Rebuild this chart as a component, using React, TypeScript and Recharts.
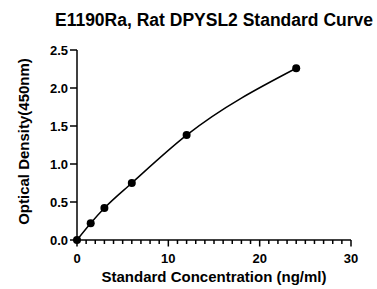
import React from 'react';
import { LineChart, Line, XAxis, YAxis, Label } from 'recharts';

const concentrations = [0, 1.5, 3, 6, 12, 24];
const densities = [0, 0.22, 0.42, 0.75, 1.38, 2.26];
const yTicks = [0, 0.5, 1, 1.5, 2, 2.5];
const xTicks = Array.from({ length: 31 }, (_, i) => i);

const data = concentrations.map((c, i) => ({ x: c, y: densities[i] }));

const FONT = "Arial, 'Liberation Sans', sans-serif";

const XTick = (props: any) => {
  const { x, y, payload } = props;
  const v = payload.value;
  const major = v % 10 === 0;
  return (
    <g>
      <line x1={x} x2={x} y1={y} y2={y + (major ? 6.5 : 4)} stroke="#000" strokeWidth={1.5} />
      {major && (
        <text x={x} y={y + 22.5} textAnchor="middle" fontFamily={FONT} fontWeight="bold" fontSize={13} fill="#000">
          {v}
        </text>
      )}
    </g>
  );
};

const YTitle = () => (
  <text
    x={29}
    y={141.5}
    transform="rotate(-90 29 141.5)"
    textAnchor="middle"
    fontFamily={FONT}
    fontWeight="bold"
    fontSize={15}
    fill="#000"
  >
    Optical Density(450nm)
  </text>
);

export default function App() {
  return (
    <div style={{ position: 'absolute', left: 0, top: 0, width: 377, height: 289, background: '#fff' }}>
      <div
        style={{
          position: 'absolute',
          left: 39,
          width: 350,
          top: 10,
          textAlign: 'center',
          fontFamily: FONT,
          fontWeight: 'bold',
          fontSize: 17.5,
          color: '#000',
          whiteSpace: 'nowrap',
        }}
      >
        E1190Ra, Rat DPYSL2 Standard Curve
      </div>
      <LineChart width={377} height={289} data={data} margin={{ top: 50, right: 26, bottom: 0, left: 0 }}>
        <XAxis
          type="number"
          dataKey="x"
          domain={[0, 30]}
          ticks={xTicks}
          interval={0}
          tickLine={false}
          tickSize={0}
          tickMargin={0}
          tick={<XTick />}
          axisLine={{ stroke: '#000', strokeWidth: 1.5 }}
          height={49}
        >
          <Label
            value="Standard Concentration (ng/ml)"
            position="insideBottom"
            offset={7}
            style={{ fontFamily: FONT, fontWeight: 'bold', fontSize: 15, fill: '#000' }}
          />
        </XAxis>
        <YAxis
          type="number"
          domain={[0, 2.5]}
          ticks={yTicks}
          interval={0}
          width={77}
          tickSize={7}
          tickMargin={2}
          tickFormatter={(v: number) => v.toFixed(1)}
          tick={{ fontFamily: FONT, fontWeight: 'bold', fontSize: 13, fill: '#000' }}
          tickLine={{ stroke: '#000', strokeWidth: 1.5 }}
          axisLine={{ stroke: '#000', strokeWidth: 1.5 }}
        >
          <Label content={<YTitle />} />
        </YAxis>
        <Line
          type="monotone"
          dataKey="y"
          stroke="#000"
          strokeWidth={1.5}
          dot={{ r: 4, fill: '#000', stroke: '#000', strokeWidth: 0 }}
          isAnimationActive={false}
        />
      </LineChart>
    </div>
  );
}
